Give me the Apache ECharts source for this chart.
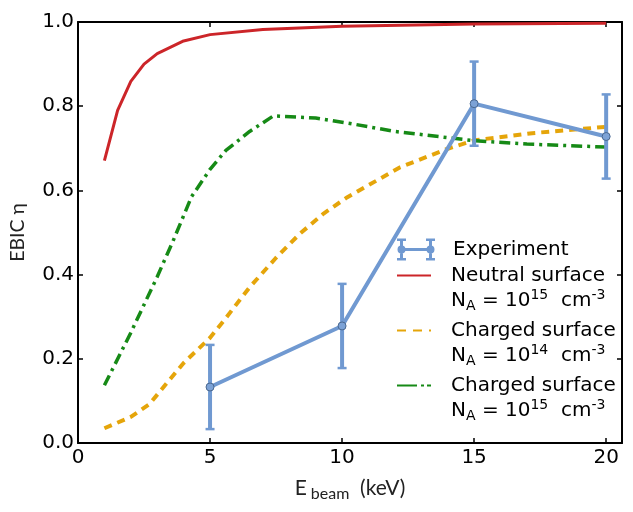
<!DOCTYPE html>
<html>
<head>
<meta charset="utf-8">
<script src="https://cdn.jsdelivr.net/npm/echarts@6/dist/echarts.min.js"></script>
<style>
html,body{margin:0;padding:0;background:#fff;}
#chart{width:633px;height:512px;}
</style>
</head>
<body>
<div id="chart"></div>
<script>
// ---- data ----
const expX = [5, 10, 15, 20];
const expY = [0.133, 0.278, 0.806, 0.728];
const expErr = [0.1, 0.1, 0.1, 0.1];

const neutralX = [1, 1.5, 2, 2.5, 3, 4, 5, 7, 10, 15, 20];
const neutralY = [0.671, 0.79, 0.859, 0.9, 0.925, 0.955, 0.97, 0.982, 0.99, 0.995, 0.997];

const charged14X = [1, 2, 2.7, 3.4, 4, 5, 5.6, 6.5, 7.5, 8.4, 9.3, 10.2, 12.2, 14, 15, 17.2, 20];
const charged14Y = [0.035, 0.062, 0.092, 0.145, 0.19, 0.25, 0.297, 0.37, 0.44, 0.497, 0.545, 0.584, 0.655, 0.699, 0.719, 0.736, 0.751];

const charged15X = [1, 2, 3, 3.6, 4.3, 5, 5.6, 6.5, 7.4, 9, 10.3, 12, 15, 17, 20];
const charged15Y = [0.137, 0.262, 0.395, 0.48, 0.585, 0.65, 0.695, 0.74, 0.777, 0.772, 0.759, 0.74, 0.718, 0.71, 0.703];

const xTicks = [0, 5, 10, 15, 20];
const yTicks = [0, 0.2, 0.4, 0.6, 0.8, 1.0];

const names = ['Experiment', 'Neutral surface', 'Charged surface 14', 'Charged surface 15'];

// ---- helpers ----
const zip = (xs, ys) => xs.map((x, i) => [x, ys[i]]);
const FONT = 'DejaVu Sans';
const BLUE = '#7099d1', RED = '#cc2529', ORANGE = '#e5a50a', GREEN = '#168a16';

const chart = echarts.init(document.getElementById('chart'), null, {renderer: 'canvas'});

const richLegend = {
  n: {fontSize: 20, lineHeight: 25, fontFamily: FONT, color: '#000'},
  blank: {fontSize: 20, lineHeight: 25, fontFamily: FONT, color: '#000'},
  sup: {fontSize: 14, lineHeight: 10, verticalAlign: 'top', fontFamily: FONT, color: '#000'},
  sub: {fontSize: 14, lineHeight: 10, verticalAlign: 'bottom', fontFamily: FONT, color: '#000'}
};
const naLine = (p) => '{n|N}{sub|A}{n| = 10}{sup|' + p + '}{n|  cm}{sup|-3}';
const legendText = {
  'Experiment': '{n|Experiment}',
  'Neutral surface': '{blank| }\n{n|Neutral surface}\n' + naLine('15'),
  'Charged surface 14': '{blank| }\n{n|Charged surface}\n' + naLine('14'),
  'Charged surface 15': '{blank| }\n{n|Charged surface}\n' + naLine('15')
};

const expIcon = 'path://M0,0H9V2.5H0Z M0,19.5H9V22H0Z M3,0H6V22H3Z M29,0H38V2.5H29Z M29,19.5H38V22H29Z M32,0H35V22H32Z M4.5,9.5H33.5V12.5H4.5Z M0.5,11A4,4 0 1 1 8.5,11A4,4 0 1 1 0.5,11Z M29.5,11A4,4 0 1 1 37.5,11A4,4 0 1 1 29.5,11Z';

const axisLineStyle = {color: '#000', width: 2};
const tickStyle = {color: '#000', width: 1.5};

const option = {
  backgroundColor: '#fff',
  animation: false,
  grid: {left: 78, right: 11, top: 22, bottom: 69, containLabel: false},
  xAxis: [{
    type: 'value', min: 0, max: 20.6, position: 'bottom',
    axisLine: {show: true, onZero: false, lineStyle: axisLineStyle},
    axisTick: {show: true, inside: true, length: 5, lineStyle: tickStyle, customValues: xTicks},
    axisLabel: {show: true, customValues: xTicks, fontSize: 20, fontFamily: FONT, color: '#000', margin: 5},
    splitLine: {show: false},
    name: '{e|E}{sub|beam}{e|  (keV)}',
    nameLocation: 'middle', nameGap: 31,
    nameTextStyle: {
      rich: {
        e: {fontSize: 21, lineHeight: 28, fontFamily: 'Lato', color: '#222'},
        sub: {fontSize: 16, lineHeight: 14, verticalAlign: 'bottom', fontFamily: 'Lato', color: '#222', padding: [0, 0, 0, 4]}
      }
    }
  }, {
    type: 'value', min: 0, max: 20.6, position: 'top',
    axisLine: {show: true, onZero: false, lineStyle: axisLineStyle},
    axisTick: {show: true, inside: true, length: 5, lineStyle: tickStyle, customValues: xTicks},
    axisLabel: {show: false},
    splitLine: {show: false}
  }],
  yAxis: [{
    type: 'value', min: 0, max: 1, interval: 0.2, position: 'left',
    axisLine: {show: true, onZero: false, lineStyle: axisLineStyle},
    axisTick: {show: true, inside: true, length: 5, lineStyle: tickStyle},
    axisLabel: {show: true, fontSize: 20, fontFamily: FONT, color: '#000', margin: 4,
      formatter: v => v.toFixed(1)},
    splitLine: {show: false},
    name: 'EBIC η', nameLocation: 'middle', nameGap: 50, nameRotate: 90,
    nameTextStyle: {fontSize: 19.5, fontFamily: 'Lato', color: '#222'}
  }, {
    type: 'value', min: 0, max: 1, interval: 0.2, position: 'right',
    axisLine: {show: true, onZero: false, lineStyle: axisLineStyle},
    axisTick: {show: true, inside: true, length: 5, lineStyle: tickStyle},
    axisLabel: {show: false},
    splitLine: {show: false}
  }],
  legend: [{
    data: [{name: 'Experiment', icon: expIcon, itemStyle: {color: BLUE, borderWidth: 0}}],
    orient: 'vertical', left: 397, top: 238.5, padding: 0,
    itemWidth: 38, itemHeight: 22, selectedMode: false,
    formatter: n => legendText[n],
    textStyle: {rich: richLegend, padding: [0, 0, 0, 13], color: '#000'}
  }, {
    data: [
      {name: 'Neutral surface'},
      {name: 'Charged surface 14', lineStyle: {type: [9, 7]}},
      {name: 'Charged surface 15', lineStyle: {type: [20, 4, 3, 3]}}
    ],
    orient: 'vertical', left: 396, top: 240.5, padding: 0, itemGap: -17.5,
    itemWidth: 34, itemHeight: 14, selectedMode: false,
    itemStyle: {opacity: 0},
    formatter: n => legendText[n],
    textStyle: {rich: richLegend, padding: [0, 0, 0, 15], color: '#000'}
  }],
  series: [
    {
      name: 'Neutral surface', type: 'line', xAxisIndex: 0, yAxisIndex: 0,
      data: zip(neutralX, neutralY), symbol: 'none', color: RED,
      lineStyle: {color: RED, width: 3}, z: 2
    },
    {
      name: 'Charged surface 14', type: 'line', xAxisIndex: 0, yAxisIndex: 0,
      data: zip(charged14X, charged14Y), symbol: 'none', color: ORANGE,
      lineStyle: {color: ORANGE, width: 4, type: [8, 6]}, z: 3
    },
    {
      name: 'Charged surface 15', type: 'line', xAxisIndex: 0, yAxisIndex: 0,
      data: zip(charged15X, charged15Y), symbol: 'none', color: GREEN,
      lineStyle: {color: GREEN, width: 3.5, type: [11, 5, 3, 5]}, z: 3
    },
    {
      name: 'Experiment error', type: 'custom', xAxisIndex: 0, yAxisIndex: 0,
      data: expX.map((x, i) => [x, expY[i] - expErr[i], expY[i] + expErr[i]]),
      encode: {x: 0, y: [1, 2]}, z: 4,
      renderItem: (params, api) => {
        const x = api.value(0);
        const lo = api.coord([x, api.value(1)]);
        const hi = api.coord([x, api.value(2)]);
        const cw = 4.5;
        return {
          type: 'group',
          children: [
            {type: 'line', shape: {x1: lo[0], y1: lo[1], x2: hi[0], y2: hi[1]}, style: {stroke: BLUE, lineWidth: 4}},
            {type: 'line', shape: {x1: hi[0] - cw, y1: hi[1], x2: hi[0] + cw, y2: hi[1]}, style: {stroke: BLUE, lineWidth: 2.5}},
            {type: 'line', shape: {x1: lo[0] - cw, y1: lo[1], x2: lo[0] + cw, y2: lo[1]}, style: {stroke: BLUE, lineWidth: 2.5}}
          ]
        };
      }
    },
    {
      name: 'Experiment', type: 'line', xAxisIndex: 0, yAxisIndex: 0,
      data: zip(expX, expY), symbol: 'circle', symbolSize: 8, showSymbol: true, color: BLUE,
      lineStyle: {color: BLUE, width: 4},
      itemStyle: {color: '#7ca2d6', borderColor: '#4a6890', borderWidth: 1}, z: 5
    }
  ]
};
chart.setOption(option);
</script>
</body>
</html>
